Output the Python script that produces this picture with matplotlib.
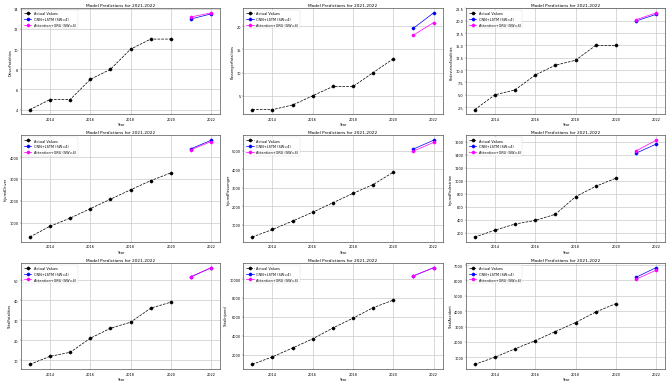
import numpy as np
import matplotlib
matplotlib.use("Agg")
import matplotlib.pyplot as plt

years = [2013, 2014, 2015, 2016, 2017, 2018, 2019, 2020]
pred_years = [2021, 2022]

targets = [
    "DriverFatalities", "PassengerFatalities", "PedestrianFatalities",
    "InjuredDriver", "InjuredPassenger", "InjuredPedestrian",
    "TotalFatalities", "TotalInjured", "TotalAccident",
]

actual = {
    "DriverFatalities": [4, 5, 5, 7, 8, 10, 11, 11],
    "PassengerFatalities": [2, 2, 3, 5, 7, 7, 10, 13],
    "PedestrianFatalities": [2, 5, 6, 9, 11, 12, 15, 15],
    "InjuredDriver": [360, 850, 1220, 1650, 2080, 2510, 2925, 3280],
    "InjuredPassenger": [350, 755, 1210, 1685, 2195, 2700, 3175, 3840],
    "InjuredPedestrian": [135, 240, 335, 390, 485, 755, 915, 1040],
    "TotalFatalities": [8, 12, 14, 21, 26, 29, 36, 39],
    "TotalInjured": [960, 1760, 2700, 3670, 4820, 5860, 6975, 7775],
    "TotalAccident": [535, 1000, 1550, 2080, 2670, 3260, 3940, 4490],
}

cnn_lstm = {
    "DriverFatalities": [13.0, 13.5],
    "PassengerFatalities": [19.6, 22.9],
    "PedestrianFatalities": [19.95, 21.3],
    "InjuredDriver": [4380, 4765],
    "InjuredPassenger": [5090, 5560],
    "InjuredPedestrian": [1425, 1565],
    "TotalFatalities": [51.6, 56.1],
    "TotalInjured": [10340, 11210],
    "TotalAccident": [6200, 6835],
}

att_gru = {
    "DriverFatalities": [13.2, 13.6],
    "PassengerFatalities": [18.1, 20.8],
    "PedestrianFatalities": [20.2, 21.6],
    "InjuredDriver": [4335, 4705],
    "InjuredPassenger": [4980, 5440],
    "InjuredPedestrian": [1460, 1625],
    "TotalFatalities": [51.7, 56.2],
    "TotalInjured": [10350, 11220],
    "TotalAccident": [6075, 6665],
}

dpi = 669 / 26
fig, axes = plt.subplots(3, 3, figsize=(26, 15), dpi=dpi)

for ax, name in zip(axes.flat, targets):
    ax.plot(years, actual[name], "k--o", lw=2, ms=9, label="Actual Values")
    ax.plot(pred_years, cnn_lstm[name], "-o", lw=2, ms=9, color="blue", label="CNN+LSTM (SW=4)")
    ax.plot(pred_years, att_gru[name], "-o", lw=2, ms=9, color="magenta", label="Attention+GRU (SW=4)")
    ax.set_title("Model Predictions for 2021-2022")
    ax.set_xlabel("Year")
    ax.set_ylabel(name)
    ax.legend(loc="upper left")
    ax.grid(True, lw=2, color="#cccccc")
    for s in ax.spines.values():
        s.set_linewidth(2)
        s.set_color("#555555")

plt.tight_layout()
plt.savefig("out.png", dpi=dpi)
